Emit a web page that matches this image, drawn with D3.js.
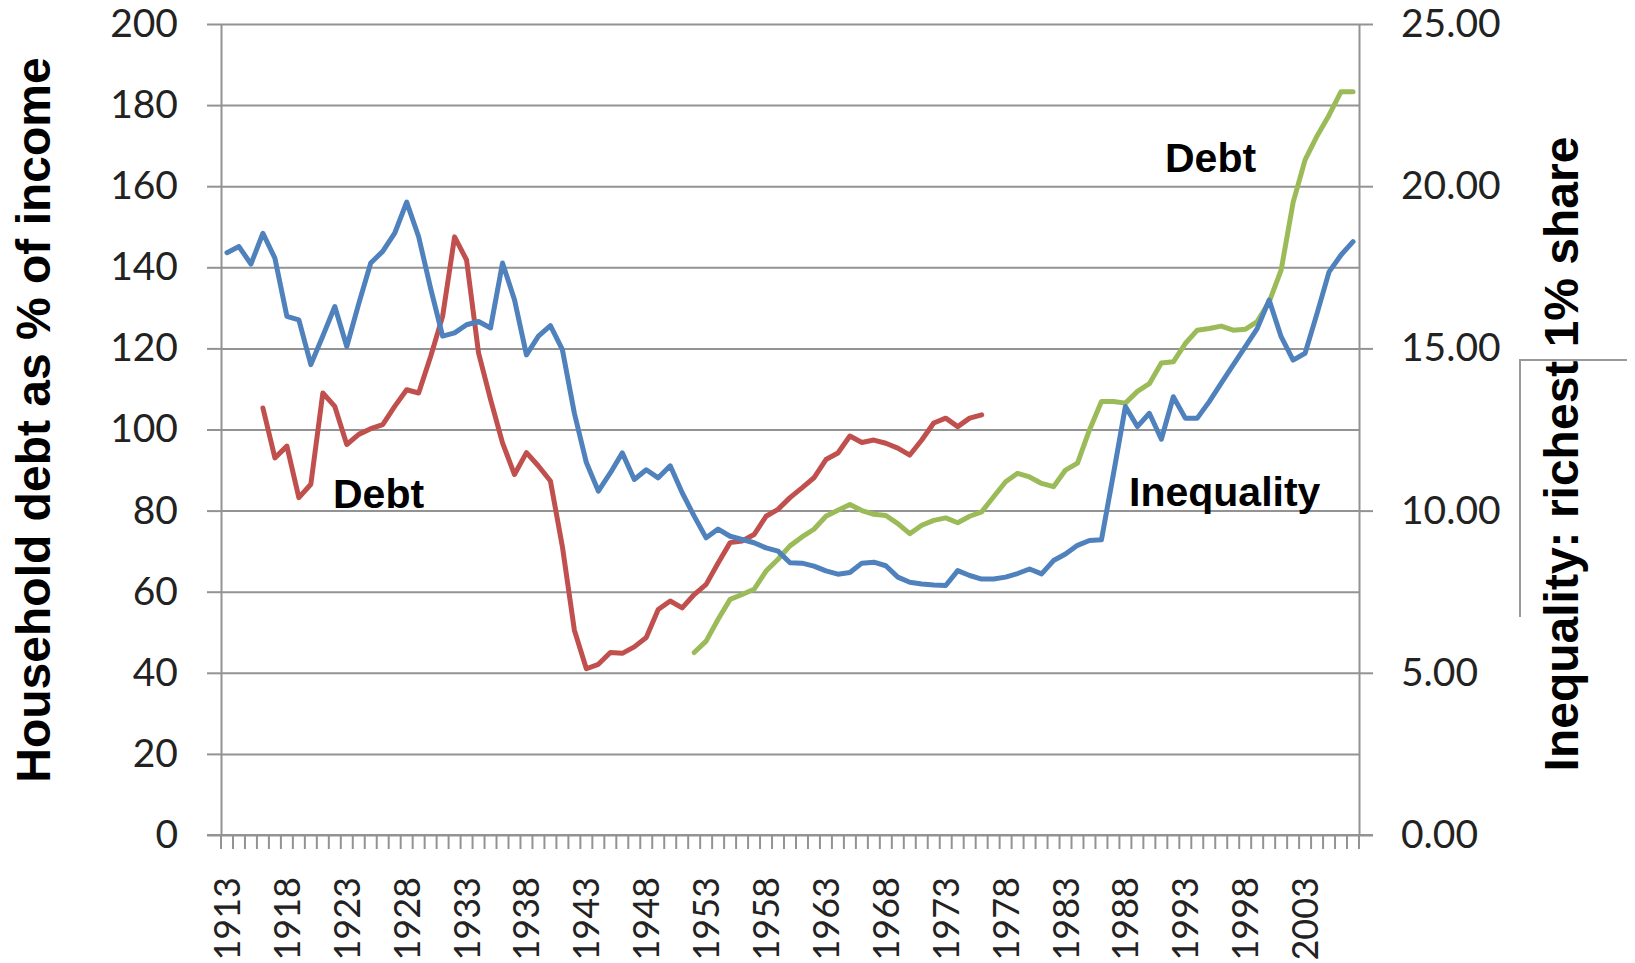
<!DOCTYPE html>
<html>
<head>
<meta charset="utf-8">
<script src="https://cdn.jsdelivr.net/npm/d3@7"></script>
<style>
  html, body { margin: 0; padding: 0; background: #fff; }
  svg { display: block; }
</style>
</head>
<body>
<div id="chart"></div>
<script>
// categories: one per year, 1913..2007
var years = d3.range(1913, 2008);
var labelYears = d3.range(1913, 2008, 5);
var leftTicks = [0, 20, 40, 60, 80, 100, 120, 140, 160, 180, 200];
var rightTicks = [0, 5, 10, 15, 20, 25];

// top 1% income share, right axis (%), 1913..2007
var inequality = [
  17.95, 18.14, 17.60, 18.55, 17.78, 15.99, 15.88, 14.50, 15.38, 16.29,
  15.06, 16.38, 17.63, 17.99, 18.55, 19.51, 18.44, 16.85, 15.38, 15.48,
  15.73, 15.83, 15.63, 17.63, 16.50, 14.80, 15.38, 15.70, 14.96, 13.00,
  11.48, 10.60, 11.16, 11.78, 10.96, 11.26, 11.01, 11.38, 10.55, 9.83,
  9.16, 9.43, 9.21, 9.11, 9.01, 8.85, 8.75, 8.39, 8.38, 8.29,
  8.14, 8.04, 8.09, 8.38, 8.41, 8.30, 7.95, 7.79, 7.74, 7.71,
  7.69, 8.15, 8.00, 7.89, 7.89, 7.95, 8.06, 8.20, 8.05, 8.46,
  8.66, 8.93, 9.08, 9.10, 11.13, 13.21, 12.59, 13.00, 12.20, 13.51,
  12.85, 12.85, 13.36, 13.93, 14.49, 15.05, 15.61, 16.49, 15.36, 14.64,
  14.85, 16.08, 17.36, 17.88, 18.29
];

// household debt, left axis (% of income), first series 1916..1976
var debtEarlyStart = 1916;
var debtEarly = [
  105.3, 93.0, 95.9, 83.2, 86.5, 109.0, 105.7, 96.3, 98.8, 100.2,
  101.2, 105.7, 109.8, 109.0, 118.0, 127.9, 147.5, 141.8, 118.9, 107.4,
  96.7, 88.9, 94.3, 91.0, 87.3, 71.1, 50.5, 41.0, 42.1, 45.0,
  44.8, 46.4, 48.7, 55.6, 57.7, 56.0, 59.3, 61.8, 67.1, 72.1,
  72.5, 74.1, 78.6, 80.3, 83.2, 85.6, 88.1, 92.6, 94.2, 98.4,
  96.8, 97.4, 96.6, 95.4, 93.7, 97.4, 101.6, 102.8, 100.7, 102.8,
  103.6
];

// household debt, left axis (% of income), second series 1952..2007
var debtLateStart = 1952;
var debtLate = [
  45.0, 47.8, 53.2, 58.1, 59.3, 60.6, 65.1, 68.0, 71.3, 73.5,
  75.4, 78.6, 80.1, 81.5, 80.0, 79.1, 78.8, 76.8, 74.3, 76.4,
  77.6, 78.2, 77.0, 78.6, 79.7, 83.4, 87.1, 89.2, 88.3, 86.7,
  85.9, 90.0, 91.7, 99.9, 106.9, 106.9, 106.5, 109.4, 111.3, 116.4,
  116.7, 121.2, 124.5, 124.9, 125.5, 124.5, 124.7, 126.6, 131.5, 139.3,
  156.0, 166.5, 172.4, 177.5, 183.3, 183.3
];

var W = 1635, H = 963,
    margin = { top: 24, right: 276, bottom: 128, left: 221 },
    plotR = W - margin.right,
    plotB = H - margin.bottom;

var gridColor = "#939393",
    labelFont = "Lato, 'Open Sans', sans-serif",
    boldFont = "'Liberation Sans', Arial, sans-serif";

var svg = d3.select("#chart").append("svg")
    .attr("width", W)
    .attr("height", H);

var x = d3.scaleBand().domain(years).range([margin.left, plotR]),
    bw = x.bandwidth(),
    yL = d3.scaleLinear().domain([0, 200]).range([plotB, margin.top]),
    yR = d3.scaleLinear().domain([0, 25]).range([plotB, margin.top]);

function cx(year) { return x(year) + bw / 2; }

// horizontal gridlines
svg.append("g")
    .attr("transform", "translate(" + margin.left + ",0)")
    .call(d3.axisLeft(yL).tickValues(leftTicks).tickSize(-(plotR - margin.left)).tickFormat(""))
    .call(function (g) { g.select(".domain").remove(); });

// left axis
svg.append("g")
    .attr("class", "axis-left")
    .attr("transform", "translate(" + margin.left + ",0)")
    .call(d3.axisLeft(yL).tickValues(leftTicks).tickSize(14).tickPadding(29).tickSizeOuter(0));

// right axis
svg.append("g")
    .attr("class", "axis-right")
    .attr("transform", "translate(" + plotR + ",0)")
    .call(d3.axisRight(yR).tickValues(rightTicks).tickSize(14).tickPadding(28).tickSizeOuter(0)
        .tickFormat(d3.format(".2f")));

// bottom axis line + category boundary ticks
svg.append("line")
    .attr("x1", margin.left - 14).attr("x2", plotR + 14)
    .attr("y1", plotB).attr("y2", plotB)
    .attr("stroke", gridColor).attr("stroke-width", 2);

svg.append("g").selectAll("line")
    .data(years.concat([null]))
    .join("line")
    .attr("x1", function (d) { return d === null ? plotR : x(d); })
    .attr("x2", function (d) { return d === null ? plotR : x(d); })
    .attr("y1", plotB).attr("y2", plotB + 14)
    .attr("stroke", gridColor).attr("stroke-width", 2);

svg.append("g").selectAll("text")
    .data(labelYears)
    .join("text")
    .attr("transform", function (d) { return "translate(" + (cx(d) + 13) + "," + 877 + ") rotate(-90)"; })
    .attr("text-anchor", "end")
    .attr("font-family", labelFont)
    .attr("font-size", 36)
    .attr("fill", "#222")
    .text(function (d) { return d; });

svg.selectAll(".axis-left line, .axis-right line, g .tick line")
    .attr("stroke", gridColor).attr("stroke-width", 2);
svg.selectAll(".domain")
    .attr("stroke", gridColor).attr("stroke-width", 2);
svg.selectAll(".axis-left text, .axis-right text")
    .attr("font-family", labelFont)
    .attr("font-size", 39)
    .attr("fill", "#222");

// series
function series(values, start) {
    return values.map(function (v, i) { return { year: start + i, v: v }; });
}

var lineL = d3.line().x(function (d) { return cx(d.year); }).y(function (d) { return yL(d.v); });
var lineR = d3.line().x(function (d) { return cx(d.year); }).y(function (d) { return yR(d.v); });

var lines = [
    { data: series(debtEarly, debtEarlyStart), gen: lineL, color: "#c0504d" },
    { data: series(debtLate, debtLateStart), gen: lineL, color: "#9bbb59" },
    { data: series(inequality, 1913), gen: lineR, color: "#4f81bd" }
];

svg.append("g").selectAll("path")
    .data(lines)
    .join("path")
    .attr("fill", "none")
    .attr("stroke", function (d) { return d.color; })
    .attr("stroke-width", 5)
    .attr("stroke-linejoin", "round")
    .attr("stroke-linecap", "round")
    .attr("d", function (d) { return d.gen(d.data); });

// annotations
var notes = [
    { text: "Debt", x: 333, y: 508 },
    { text: "Debt", x: 1165, y: 172 },
    { text: "Inequality", x: 1129, y: 506 }
];
svg.append("g").selectAll("text")
    .data(notes)
    .join("text")
    .attr("x", function (d) { return d.x; })
    .attr("y", function (d) { return d.y; })
    .attr("font-family", boldFont)
    .attr("font-weight", "bold")
    .attr("font-size", 41)
    .attr("fill", "#000")
    .text(function (d) { return d.text; });

// stray box edge beside the right title
svg.append("path")
    .attr("d", "M1627,360 H1520 V617")
    .attr("fill", "none")
    .attr("stroke", "#999")
    .attr("stroke-width", 2);

// axis titles
svg.append("text")
    .attr("transform", "translate(50,420) rotate(-90)")
    .attr("text-anchor", "middle")
    .attr("font-family", boldFont)
    .attr("font-weight", "bold")
    .attr("font-size", 48)
    .attr("fill", "#000")
    .text("Household debt as % of income");

svg.append("text")
    .attr("transform", "translate(1578,454) rotate(-90)")
    .attr("text-anchor", "middle")
    .attr("font-family", boldFont)
    .attr("font-weight", "bold")
    .attr("font-size", 48)
    .attr("fill", "#000")
    .text("Inequality: richest 1% share");
</script>
</body>
</html>
